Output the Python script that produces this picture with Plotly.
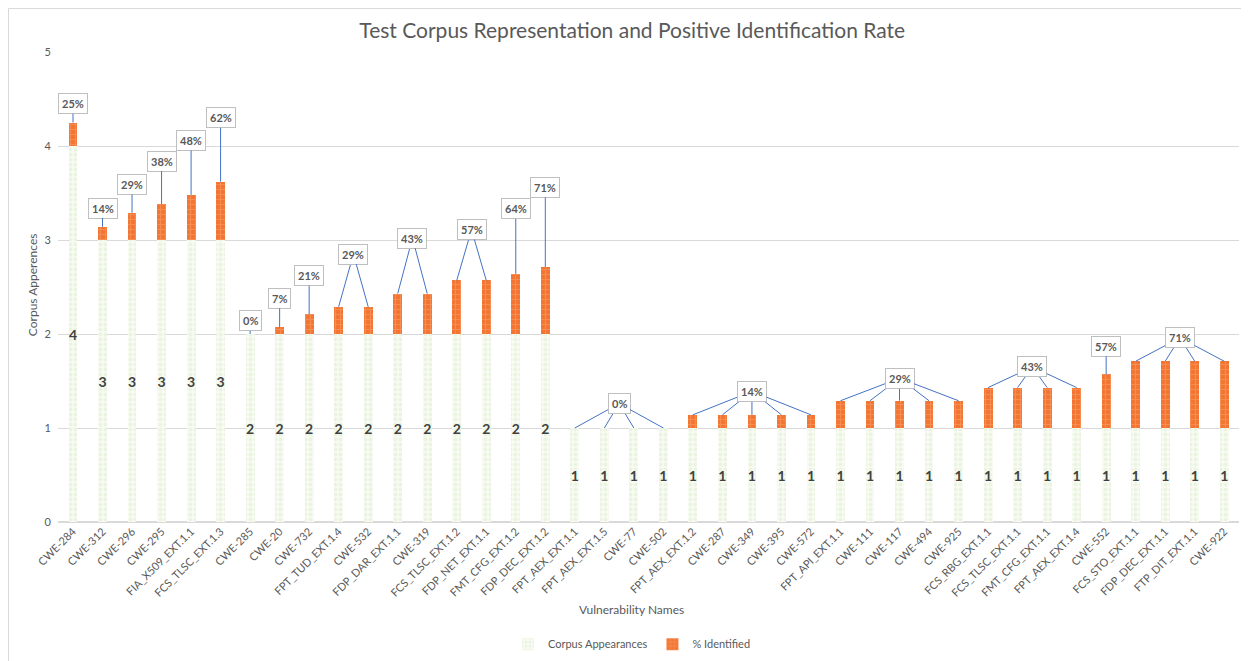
import plotly.graph_objects as go

categories = [
    "CWE-284", "CWE-312", "CWE-296", "CWE-295", "FIA_X509_EXT.1.1", "FCS_TLSC_EXT.1.3",
    "CWE-285", "CWE-20", "CWE-732", "FPT_TUD_EXT.1.4", "CWE-532", "FDP_DAR_EXT.1.1",
    "CWE-319", "FCS_TLSC_EXT.1.2", "FDP_NET_EXT.1.1", "FMT_CFG_EXT.1.2", "FDP_DEC_EXT.1.2",
    "FPT_AEX_EXT.1.1", "FPT_AEX_EXT.1.5", "CWE-77", "CWE-502", "FPT_AEX_EXT.1.2",
    "CWE-287", "CWE-349", "CWE-395", "CWE-572", "FPT_API_EXT.1.1", "CWE-111", "CWE-117",
    "CWE-494", "CWE-925", "FCS_RBG_EXT.1.1", "FCS_TLSC_EXT.1.1", "FMT_CFG_EXT.1.1",
    "FPT_AEX_EXT.1.4", "CWE-552", "FCS_STO_EXT.1.1", "FDP_DEC_EXT.1.1", "FTP_DIT_EXT.1.1",
    "CWE-922",
]
corpus_appearances = [4, 3, 3, 3, 3, 3, 2, 2, 2, 2, 2, 2, 2, 2, 2, 2, 2,
                      1, 1, 1, 1, 1, 1, 1, 1, 1, 1, 1, 1, 1, 1, 1, 1, 1, 1, 1, 1, 1, 1, 1]
pct_identified = [25, 14, 29, 38, 48, 62, 0, 7, 21, 29, 29, 43, 43, 57, 57, 64, 71,
                  0, 0, 0, 0, 14, 14, 14, 14, 14, 29, 29, 29, 29, 29, 43, 43, 43, 43,
                  57, 71, 71, 71, 71]
y_ticks = [0, 1, 2, 3, 4, 5]

# callout placement (layout): (first bar index, last bar index, label height)
callout_groups = [
    (0, 0, 4.45), (1, 1, 3.34), (2, 2, 3.59), (3, 3, 3.84), (4, 4, 4.06), (5, 5, 4.30),
    (6, 6, 2.14), (7, 7, 2.38), (8, 8, 2.62), (9, 10, 2.85), (11, 12, 3.02), (13, 14, 3.11),
    (15, 15, 3.33), (16, 16, 3.56), (17, 20, 1.26), (21, 25, 1.39), (26, 30, 1.53),
    (31, 34, 1.65), (35, 35, 1.87), (36, 39, 1.96),
]

FONT = "Lato, Open Sans, sans-serif"
GREY = "#595959"

fig = go.Figure()
fig.add_trace(go.Bar(
    name="Corpus Appearances",
    x=categories, y=corpus_appearances,
    marker=dict(color="#F6FAF1", line=dict(width=0),
                pattern=dict(shape=".", fgcolor="#DCEDCC", bgcolor="#F8FBF4", size=5, solidity=0.5)),
    text=[f"<b>{c}</b>" for c in corpus_appearances],
    textposition="inside", insidetextanchor="middle", constraintext="none",
    textfont=dict(family=FONT, size=14, color="#404040"),
    hoverinfo="x+y",
))
fig.add_trace(go.Bar(
    name="% Identified",
    x=categories, y=[p / 100 for p in pct_identified],
    marker=dict(color="#F47B3A", line=dict(width=0),
                pattern=dict(shape="+", fgcolor="#F8A474", bgcolor="#F37531", size=5, solidity=0.4)),
    hoverinfo="x+y",
))

annotations = []
for first, last, label_y in callout_groups:
    label_x = (first + last) / 2
    for i in range(first, last + 1):
        annotations.append(dict(
            x=categories[i], y=corpus_appearances[i] + pct_identified[i] / 100,
            xref="x", yref="y", axref="x", ayref="y",
            ax=label_x, ay=label_y,
            text=f"<b>{pct_identified[first]}%</b>",
            showarrow=True, arrowhead=0, arrowwidth=1, arrowcolor="#4472C4", standoff=0,
            bgcolor="white", bordercolor="#BFBFBF", borderwidth=1, borderpad=3,
            font=dict(family=FONT, size=11, color=GREY),
        ))

annotations.append(dict(text="Vulnerability Names", xref="paper", yref="paper",
                        x=0.486, y=-0.187, xanchor="center", yanchor="middle",
                        showarrow=False, font=dict(family=FONT, size=12, color=GREY)))
annotations.append(dict(text="Corpus Apperences", xref="paper", yref="paper",
                        x=-0.022, y=0.504, xanchor="center", yanchor="middle",
                        textangle=-90, showarrow=False,
                        font=dict(family=FONT, size=12, color=GREY)))

# page body adds an 8px offset, so the figure is sized to the remaining window
fig.update_layout(
    width=1241, height=653, autosize=False,
    barmode="stack", bargap=0.7,
    paper_bgcolor="white", plot_bgcolor="white",
    margin=dict(l=50, r=10, t=44, b=139, autoexpand=False),
    title=dict(text="Test Corpus Representation and Positive Identification Rate",
               x=0.503, y=0.966, xanchor="center", yanchor="middle",
               font=dict(family=FONT, size=21, color=GREY)),
    font=dict(family=FONT, color=GREY),
    showlegend=True,
    legend=dict(orientation="h", x=0.486, y=-0.26, xanchor="center", yanchor="middle",
                traceorder="normal", itemwidth=30,
                font=dict(family=FONT, size=11, color=GREY)),
    annotations=annotations,
    shapes=[dict(type="rect", xref="paper", yref="paper",
                 x0=-0.0419, x1=1.03, y0=-0.5, y1=1.0926,
                 line=dict(color="#D9D9D9", width=1))],
)
fig.update_xaxes(type="category", tickangle=-45, showgrid=False, showline=False,
                 ticks="", automargin=False,
                 tickfont=dict(family=FONT, size=11, color=GREY))
fig.update_yaxes(range=[0, 5], tickvals=y_ticks, showgrid=True, gridcolor="#D9D9D9",
                 zeroline=True, zerolinecolor="#D9D9D9", showline=False, ticks="",
                 automargin=False, ticklabelstandoff=6,
                 tickfont=dict(family=FONT, size=11, color=GREY))

fig.write_html("out.html")
